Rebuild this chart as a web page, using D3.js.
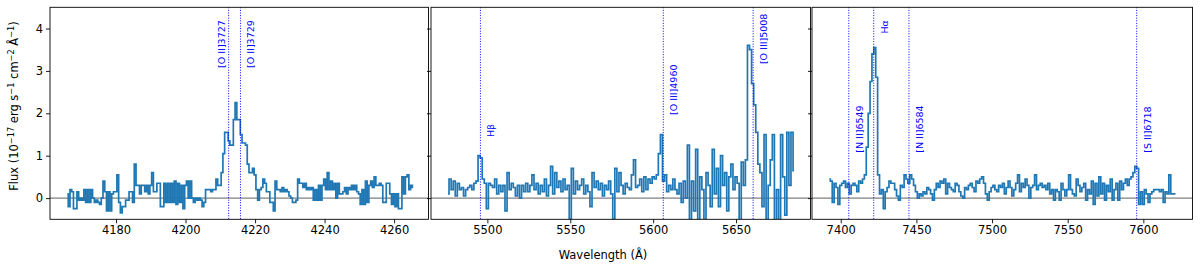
<!DOCTYPE html>
<html><head><meta charset="utf-8">
<script src="https://cdn.jsdelivr.net/npm/d3@7"></script>
<style>body{margin:0;background:#fff}svg{display:block}text{font-family:"DejaVu Sans",sans-serif}</style>
</head><body>
<svg id="c" width="1200" height="267"></svg>
<script>
// ---------- data ----------
const p1Start = 4166.0, p1Step = 0.5;
const p1Flux = [
0.1,-0.2,0.2,0.15,-0.25,-0.25,0.15,-0.05,0.0,-0.05,
0.2,-0.1,0.2,-0.1,0.2,0.0,-0.1,-0.05,-0.1,-0.15,
0.0,0.4,0.15,-0.3,0.15,-0.3,0.1,0.15,0.15,0.55,
-0.1,-0.35,-0.2,-0.2,-0.05,-0.05,0.15,0.15,-0.1,0.8,
0.3,0.3,0.1,0.3,0.3,0.15,0.3,0.1,0.3,0.6,
0.15,0.15,0.35,0.35,-0.2,-0.2,0.35,-0.1,0.35,-0.1,
0.35,-0.1,0.4,-0.15,0.35,-0.1,0.3,-0.25,0.3,0.4,
0.0,0.4,0.0,-0.1,0.0,-0.05,0.0,-0.05,-0.2,-0.1,
0.2,0.2,0.2,0.15,0.2,0.2,0.45,0.3,0.3,0.6,
1.05,1.55,1.55,1.35,1.25,1.25,1.85,2.25,1.85,1.85,
1.5,1.3,1.3,1.25,0.8,0.6,0.6,0.7,0.55,0.2,
-0.05,0.2,0.25,0.45,0.35,0.15,0.15,-0.1,-0.1,-0.3,
0.4,0.2,0.2,0.15,0.25,0.15,0.2,0.15,0.05,0.0,
-0.1,-0.1,-0.05,0.45,0.35,0.35,0.25,0.35,0.2,0.25,
0.2,0.25,-0.05,0.2,-0.05,0.3,-0.05,0.3,0.45,0.2,
0.6,0.2,0.4,0.2,0.35,0.0,0.35,0.1,0.1,0.15,
0.25,0.1,0.25,0.2,0.3,0.2,0.3,0.15,0.1,-0.15,
0.2,-0.15,0.4,-0.1,0.3,0.4,0.25,0.5,0.3,0.3,
0.35,0.3,-0.1,-0.1,0.35,0.35,0.1,-0.15,0.1,-0.2,
0.1,-0.25,-0.25,0.5,0.1,0.5,0.55,0.2,0.3,0.25];

const p2Start = 5476.25, p2Step = 1.25;
const p2Flux = [
0.1,0.45,0.2,0.4,0.05,0.35,0.2,0.25,0.05,0.2,
0.25,0.3,0.2,0.35,0.4,1.0,0.95,0.45,0.35,-0.25,
0.35,0.3,0.25,0.45,0.1,0.3,0.15,0.3,-0.3,0.6,
0.2,0.35,0.25,0.05,0.3,0.0,0.3,0.15,0.35,0.15,
0.3,0.55,0.2,0.35,0.1,0.3,0.15,0.45,0.05,0.3,
0.75,0.1,0.6,0.25,0.4,0.15,0.45,0.2,0.3,-0.5,
0.7,0.1,0.4,0.2,0.3,0.45,0.1,0.3,0.15,-0.2,
0.6,0.25,0.4,0.2,0.35,0.05,0.3,0.2,0.4,0.1,
-0.5,0.7,0.15,0.6,0.3,0.1,0.35,0.25,0.2,0.55,
0.9,0.25,0.3,0.45,0.15,0.5,0.2,0.45,0.35,0.5,
0.45,0.55,1.05,1.5,0.4,0.55,0.15,0.3,0.2,0.45,
0.2,0.1,0.35,-0.1,0.4,0.0,1.25,-0.7,0.4,-0.3,
1.15,-0.8,0.5,0.2,-0.8,0.6,0.3,-0.2,1.15,0.1,
0.7,-0.2,1.0,0.3,0.6,-0.3,0.5,0.8,0.2,0.5,
0.35,-0.8,0.85,0.3,0.9,3.6,3.5,2.7,2.2,1.55,
0.8,0.6,-0.2,1.5,-0.6,0.3,0.9,1.5,-0.6,0.2,
-0.6,1.5,0.5,-0.4,1.55,0.3,1.55,0.65];

const p3Start = 7392.5, p3Step = 1.25;
const p3Flux = [
0.45,0.4,-0.1,0.35,0.25,-0.15,0.3,0.35,0.4,0.25,
0.35,0.1,0.3,0.35,0.3,0.15,0.4,0.35,0.45,0.55,
1.2,2.0,2.75,3.4,3.55,2.85,0.55,0.1,0.2,-0.25,
0.15,0.25,0.4,0.35,0.35,0.2,0.05,-0.05,0.3,0.25,
0.55,0.45,0.35,0.55,0.45,0.3,0.15,0.0,0.1,0.05,
0.15,0.1,0.25,0.2,0.1,-0.05,0.2,0.35,0.25,0.4,
0.35,0.45,0.1,0.35,0.25,0.2,0.15,0.35,0.3,0.15,
0.05,0.0,0.25,0.2,0.3,0.35,0.25,0.15,0.4,0.35,
0.45,0.5,0.35,0.1,-0.05,0.15,0.25,0.3,0.2,0.15,
0.3,0.25,0.35,0.1,0.25,0.4,0.25,0.05,0.2,0.35,
0.55,0.15,0.35,0.25,0.45,0.3,0.0,0.25,0.3,0.55,
0.2,0.3,0.35,0.25,0.3,0.2,0.35,0.1,0.2,-0.05,
0.2,0.15,-0.05,0.35,0.2,0.05,0.2,0.55,0.2,0.1,
0.05,0.45,0.3,0.15,0.25,0.35,-0.05,0.2,0.1,0.4,
-0.15,0.35,0.05,0.5,0.1,0.35,-0.05,0.3,0.15,0.45,
-0.05,0.2,0.35,-0.05,0.4,0.2,0.35,0.45,0.3,0.45,
0.5,0.6,0.75,0.7,-0.15,0.15,-0.15,0.2,0.1,-0.1,
0.1,0.15,0.2,0.2,0.2,0.15,0.2,-0.1,0.15,0.1,
0.55,0.1,0.1,0.1];

const p1Ticks = [4180, 4200, 4220, 4240, 4260];
const p2Ticks = [5500, 5550, 5600, 5650];
const p3Ticks = [7400, 7450, 7500, 7550, 7600];
const yTicks = [0, 1, 2, 3, 4];

const p1Lines = [4212.4, 4215.8];
const p1Names = ["[O II]3727", "[O II]3729"];
const p1LabelY = [3.07, 3.07];
const p1LabelSide = ["left", "right"];

const p2Lines = [5495.8, 5606.1, 5660.3];
const p2Names = ["Hβ", "[O III]4960", "[O III]5008"];
const p2LabelY = [1.44, 1.96, 3.16];
const p2LabelSide = ["right", "right", "right"];

const p3Lines = [7405.3, 7421.8, 7445.1, 7595.6];
const p3Names = ["[N II]6549", "Hα", "[N II]6584", "[S II]6718"];
const p3LabelY = [1.07, 3.88, 1.07, 1.07];
const p3LabelSide = ["right", "right", "right", "right"];

// ---------- layout ----------
const svg = d3.select("#c");
const yTop = 7.3, yBot = 219.3;
const y = d3.scaleLinear().domain([-0.5, 4.5]).range([yBot, yTop]);
const color = "#1f77b4";

const panels = [
  {px:[50,428.5], dom:[4161.0,4269.9], start:p1Start, step:p1Step, flux:p1Flux, ticks:p1Ticks, lines:p1Lines, names:p1Names, ly:p1LabelY, side:p1LabelSide},
  {px:[431,810.5], dom:[5466.0,5694.9], start:p2Start, step:p2Step, flux:p2Flux, ticks:p2Ticks, lines:p2Lines, names:p2Names, ly:p2LabelY, side:p2LabelSide},
  {px:[812,1192.5], dom:[7381.0,7632.5], start:p3Start, step:p3Step, flux:p3Flux, ticks:p3Ticks, lines:p3Lines, names:p3Names, ly:p3LabelY, side:p3LabelSide}
];

panels.forEach((p, k) => {
  const x = d3.scaleLinear().domain(p.dom).range(p.px);
  const g = svg.append("g");
  const cid = "clip" + k;
  svg.append("clipPath").attr("id", cid).append("rect")
    .attr("x", p.px[0]).attr("y", yTop).attr("width", p.px[1]-p.px[0]).attr("height", yBot-yTop);
  const pg = g.append("g").attr("clip-path", `url(#${cid})`);

  pg.append("line").attr("x1", p.px[0]).attr("x2", p.px[1])
    .attr("y1", y(0)).attr("y2", y(0)).attr("stroke", "#808080").attr("stroke-width", 1.2);

  const pts = p.flux.map((v, i) => [p.start + i*p.step, v]);
  const line = d3.line().x(d => x(d[0])).y(d => y(d[1])).curve(d3.curveStep);
  pg.append("path").attr("d", line(pts)).attr("fill", "none")
    .attr("stroke", color).attr("stroke-width", 1.7).attr("stroke-linejoin", "miter");

  p.lines.forEach((wl, i) => {
    pg.append("line").attr("x1", x(wl)).attr("x2", x(wl)).attr("y1", yTop).attr("y2", yBot)
      .attr("stroke", "#0000ff").attr("stroke-width", 1).attr("stroke-dasharray", "1,1.6");
    const cx = x(wl) + (p.side[i] === "left" ? -7.6 : 10.5);
    const cy = y(p.ly[i]);
    g.append("text").attr("transform", `translate(${cx},${cy}) rotate(-90)`)
      .attr("dominant-baseline", "central").attr("text-anchor", "start")
      .attr("font-size", 9.5).attr("fill", "#0000ff").text(p.names[i]);
  });

  const xa = g.append("g").attr("transform", `translate(0,${yBot})`)
    .call(d3.axisBottom(x).tickValues(p.ticks).tickSize(4).tickPadding(3).tickFormat(d3.format("d")));
  xa.select(".domain").remove();
  xa.selectAll("line").attr("stroke", "#000").attr("stroke-width", 0.9);
  xa.selectAll("text").attr("font-size", 11.5).attr("fill", "#000").attr("font-family", "DejaVu Sans");

  const ya = g.append("g").attr("transform", `translate(${p.px[0]},0)`)
    .call(d3.axisLeft(y).tickValues(yTicks).tickSize(4).tickPadding(3).tickFormat(k === 0 ? d3.format("d") : () => ""));
  ya.select(".domain").remove();
  ya.selectAll("line").attr("stroke", "#000").attr("stroke-width", 0.9);
  ya.selectAll("text").attr("font-size", 11.5).attr("fill", "#000").attr("font-family", "DejaVu Sans");

  g.append("rect").attr("x", p.px[0]).attr("y", yTop).attr("width", p.px[1]-p.px[0]).attr("height", yBot-yTop)
    .attr("fill", "none").attr("stroke", "#000").attr("stroke-width", 0.9);
});

svg.append("text").attr("x", 603).attr("y", 255).attr("text-anchor", "middle")
  .attr("dominant-baseline", "central").attr("font-size", 11.5).text("Wavelength (Å)");

const yl = svg.append("text").attr("transform", "translate(14,106) rotate(-90)")
  .attr("text-anchor", "middle").attr("dominant-baseline", "central").attr("font-size", 11.5);
const parts = [["Flux (10",0],["−17",1],[" erg s",0],["−1",1],[" cm",0],["−2",1],[" Å",0],["−1",1],[")",0]];
parts.forEach(([t, sup]) => {
  const ts = yl.append("tspan").text(t);
  if (sup) ts.attr("font-size", 8.2).attr("baseline-shift", "35%");
});
</script>
</body></html>
